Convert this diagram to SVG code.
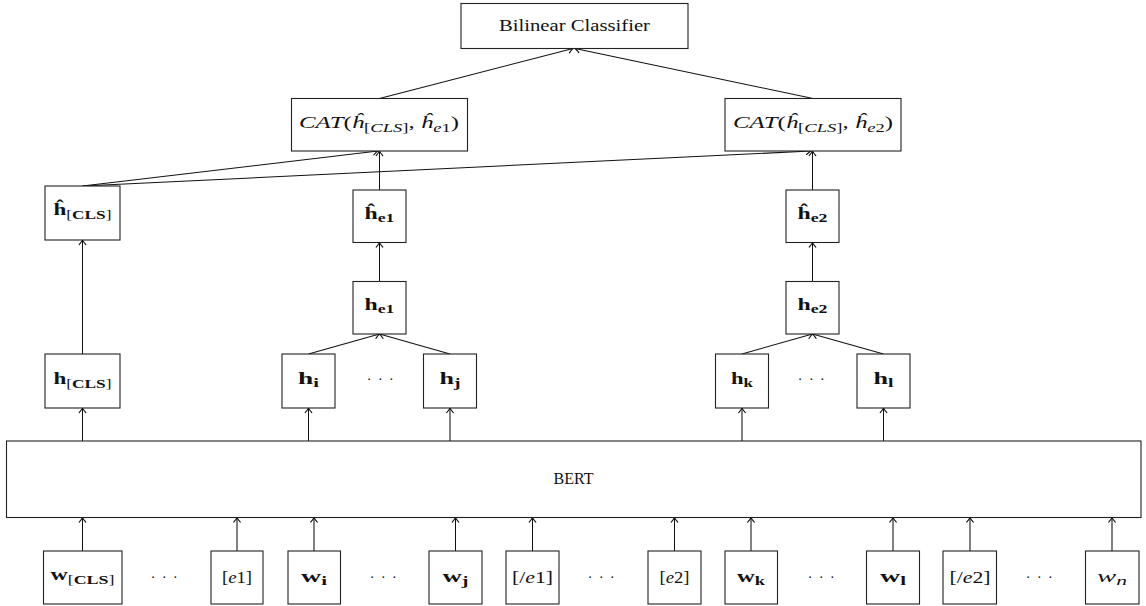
<svg xmlns="http://www.w3.org/2000/svg" width="1146" height="606" viewBox="0 0 1146 606">
  <defs>
    <marker id="tip" markerUnits="userSpaceOnUse" markerWidth="12" markerHeight="12" refX="0" refY="0" viewBox="-6 -6 12 12" orient="auto">
      <path d="M-4.6,-3.3 Q-1.6,-0.7 0,0 Q-1.6,0.7 -4.6,3.3" fill="none" stroke="#111" stroke-width="1.1" stroke-linecap="round"/>
    </marker>
    <style>
      .box { fill: #fff; stroke: #222; stroke-width: 1.1; }
      .edge { fill: none; stroke: #111; stroke-width: 1.05; marker-end: url(#tip); }
      text { font-family: "Liberation Serif", "DejaVu Serif", serif; fill: #111; text-anchor: middle; }
      .lbl { font-size: 16px; }
      .sub { font-size: 12px; }
      .b { font-weight: bold; }
      .i { font-style: italic; }
      .dots { font-size: 14px; letter-spacing: 1.5px; }
    </style>
  </defs>

  <!-- connectors -->
  <g id="connectors">
    <!-- CAT nodes into the classifier -->
    <line class="edge" x1="379.5" y1="98.5" x2="573" y2="48.5"/>
    <line class="edge" x1="813" y1="98.5" x2="575" y2="48.5"/>
    <!-- [CLS] representation shared by both concatenations -->
    <line class="edge" x1="82.5" y1="186" x2="378" y2="151"/>
    <line class="edge" x1="82.5" y1="186" x2="811" y2="151"/>
    <!-- entity heads -->
    <line class="edge" x1="379.5" y1="190" x2="379.5" y2="151"/>
    <line class="edge" x1="812.5" y1="190" x2="812.5" y2="151"/>
    <line class="edge" x1="379.5" y1="281.5" x2="379.5" y2="242.5"/>
    <line class="edge" x1="812.5" y1="281.5" x2="812.5" y2="242.5"/>
    <line class="edge" x1="82.5" y1="354" x2="82.5" y2="240"/>
    <!-- token pooling -->
    <line class="edge" x1="308.5" y1="354" x2="379.5" y2="334"/>
    <line class="edge" x1="450" y1="354" x2="379.5" y2="334"/>
    <line class="edge" x1="742" y1="354" x2="812.5" y2="334"/>
    <line class="edge" x1="883.5" y1="354" x2="812.5" y2="334"/>
    <!-- BERT outputs -->
    <line class="edge" x1="82.5" y1="441" x2="82.5" y2="408"/>
    <line class="edge" x1="308.5" y1="441" x2="308.5" y2="408"/>
    <line class="edge" x1="450" y1="441" x2="450" y2="408"/>
    <line class="edge" x1="742" y1="441" x2="742" y2="408"/>
    <line class="edge" x1="883.5" y1="441" x2="883.5" y2="408"/>
    <!-- BERT inputs -->
    <line class="edge" x1="82.5" y1="551" x2="82.5" y2="517.5"/>
    <line class="edge" x1="237" y1="551" x2="237" y2="517.5"/>
    <line class="edge" x1="314" y1="551" x2="314" y2="517.5"/>
    <line class="edge" x1="455.5" y1="551" x2="455.5" y2="517.5"/>
    <line class="edge" x1="532.5" y1="551" x2="532.5" y2="517.5"/>
    <line class="edge" x1="674.5" y1="551" x2="674.5" y2="517.5"/>
    <line class="edge" x1="751" y1="551" x2="751" y2="517.5"/>
    <line class="edge" x1="893" y1="551" x2="893" y2="517.5"/>
    <line class="edge" x1="970" y1="551" x2="970" y2="517.5"/>
    <line class="edge" x1="1112" y1="551" x2="1112" y2="517.5"/>
  </g>

  <g id="classifier">
    <rect class="box" x="461" y="3.5" width="227" height="45"/>
    <text class="lbl" x="574.5" y="31" textLength="151" lengthAdjust="spacingAndGlyphs">Bilinear Classifier</text>
  </g>

  <g id="cat-e1">
    <rect class="box" x="291.5" y="98.5" width="176" height="52.5"/>
    <text class="lbl" font-size="17" x="379" y="128" textLength="160" lengthAdjust="spacingAndGlyphs"><tspan class="i">CAT</tspan>(<tspan class="i">ĥ</tspan><tspan class="sub" dy="4">[<tspan class="i">CLS</tspan>]</tspan><tspan dy="-4">, </tspan><tspan class="i">ĥ</tspan><tspan class="sub" dy="4"><tspan class="i">e</tspan>1</tspan><tspan dy="-4">)</tspan></text>
  </g>

  <g id="cat-e2">
    <rect class="box" x="725" y="98.5" width="176" height="52.5"/>
    <text class="lbl" font-size="17" x="813" y="128" textLength="160" lengthAdjust="spacingAndGlyphs"><tspan class="i">CAT</tspan>(<tspan class="i">ĥ</tspan><tspan class="sub" dy="4">[<tspan class="i">CLS</tspan>]</tspan><tspan dy="-4">, </tspan><tspan class="i">ĥ</tspan><tspan class="sub" dy="4"><tspan class="i">e</tspan>2</tspan><tspan dy="-4">)</tspan></text>
  </g>

  <g id="hhat-cls">
    <rect class="box" x="45" y="186" width="75" height="54"/>
    <text class="lbl" x="82.5" y="215" textLength="58" lengthAdjust="spacingAndGlyphs"><tspan class="b">ĥ</tspan><tspan class="sub" dy="4">[<tspan class="b">CLS</tspan>]</tspan></text>
  </g>

  <g id="hhat-e1">
    <rect class="box" x="353" y="190" width="53" height="52.5"/>
    <text class="lbl b" x="379.5" y="219" textLength="30" lengthAdjust="spacingAndGlyphs">ĥ<tspan class="sub" dy="3">e1</tspan></text>
  </g>

  <g id="hhat-e2">
    <rect class="box" x="786" y="190" width="53" height="52.5"/>
    <text class="lbl b" x="812.5" y="219" textLength="30" lengthAdjust="spacingAndGlyphs">ĥ<tspan class="sub" dy="3">e2</tspan></text>
  </g>

  <g id="h-e1">
    <rect class="box" x="353" y="281.5" width="53" height="52.5"/>
    <text class="lbl b" x="379.5" y="310" textLength="30" lengthAdjust="spacingAndGlyphs">h<tspan class="sub" dy="3">e1</tspan></text>
  </g>

  <g id="h-e2">
    <rect class="box" x="786" y="281.5" width="53" height="52.5"/>
    <text class="lbl b" x="812.5" y="310" textLength="30" lengthAdjust="spacingAndGlyphs">h<tspan class="sub" dy="3">e2</tspan></text>
  </g>

  <g id="h-cls">
    <rect class="box" x="45" y="354" width="75" height="54"/>
    <text class="lbl" x="82.5" y="384" textLength="58" lengthAdjust="spacingAndGlyphs"><tspan class="b">h</tspan><tspan class="sub" dy="4">[<tspan class="b">CLS</tspan>]</tspan></text>
  </g>

  <g id="h-i">
    <rect class="box" x="282" y="354" width="53" height="54"/>
    <text class="lbl b" x="308.5" y="384" textLength="21" lengthAdjust="spacingAndGlyphs">h<tspan class="sub" dy="3">i</tspan></text>
  </g>

  <g id="dots-ij">
    <text class="dots" x="381" y="384">· · ·</text>
  </g>

  <g id="h-j">
    <rect class="box" x="423.5" y="354" width="53" height="54"/>
    <text class="lbl b" x="450" y="384" textLength="21" lengthAdjust="spacingAndGlyphs">h<tspan class="sub" dy="3">j</tspan></text>
  </g>

  <g id="h-k">
    <rect class="box" x="715.5" y="354" width="53" height="54"/>
    <text class="lbl b" x="742" y="384" textLength="22" lengthAdjust="spacingAndGlyphs">h<tspan class="sub" dy="3">k</tspan></text>
  </g>

  <g id="dots-kl">
    <text class="dots" x="812" y="384">· · ·</text>
  </g>

  <g id="h-l">
    <rect class="box" x="857" y="354" width="53" height="54"/>
    <text class="lbl b" x="883.5" y="384" textLength="20" lengthAdjust="spacingAndGlyphs">h<tspan class="sub" dy="3">l</tspan></text>
  </g>

  <g id="bert">
    <rect class="box" x="6.5" y="441" width="1134.5" height="76.5"/>
    <text class="lbl" x="573.5" y="484" font-size="13">BERT</text>
  </g>

  <!-- input tokens -->
  <g id="w-cls">
    <rect class="box" x="43.5" y="551" width="78.5" height="53"/>
    <text class="lbl" x="82.5" y="580" textLength="64" lengthAdjust="spacingAndGlyphs"><tspan class="b">w</tspan><tspan class="sub" dy="4">[<tspan class="b">CLS</tspan>]</tspan></text>
  </g>
  <g id="dots-1"><text class="dots" x="165" y="582">· · ·</text></g>
  <g id="tag-e1">
    <rect class="box" x="211" y="551" width="52" height="53"/>
    <text class="lbl" x="237" y="583" textLength="30" lengthAdjust="spacingAndGlyphs">[<tspan class="i">e</tspan>1]</text>
  </g>
  <g id="w-i">
    <rect class="box" x="288" y="551" width="52.5" height="53"/>
    <text class="lbl b" x="314" y="582" textLength="26" lengthAdjust="spacingAndGlyphs">w<tspan class="sub" dy="3">i</tspan></text>
  </g>
  <g id="dots-2"><text class="dots" x="384" y="582">· · ·</text></g>
  <g id="w-j">
    <rect class="box" x="429" y="551" width="53" height="53"/>
    <text class="lbl b" x="455.5" y="582" textLength="26" lengthAdjust="spacingAndGlyphs">w<tspan class="sub" dy="3">j</tspan></text>
  </g>
  <g id="tag-e1-end">
    <rect class="box" x="506" y="551" width="53" height="53"/>
    <text class="lbl" x="532.5" y="583" textLength="41" lengthAdjust="spacingAndGlyphs">[/<tspan class="i">e</tspan>1]</text>
  </g>
  <g id="dots-3"><text class="dots" x="602" y="582">· · ·</text></g>
  <g id="tag-e2">
    <rect class="box" x="648" y="551" width="53" height="53"/>
    <text class="lbl" x="674.5" y="583" textLength="30" lengthAdjust="spacingAndGlyphs">[<tspan class="i">e</tspan>2]</text>
  </g>
  <g id="w-k">
    <rect class="box" x="725" y="551" width="52.5" height="53"/>
    <text class="lbl b" x="751" y="582" textLength="28" lengthAdjust="spacingAndGlyphs">w<tspan class="sub" dy="3">k</tspan></text>
  </g>
  <g id="dots-4"><text class="dots" x="822" y="582">· · ·</text></g>
  <g id="w-l">
    <rect class="box" x="866.5" y="551" width="53" height="53"/>
    <text class="lbl b" x="893" y="582" textLength="26" lengthAdjust="spacingAndGlyphs">w<tspan class="sub" dy="3">l</tspan></text>
  </g>
  <g id="tag-e2-end">
    <rect class="box" x="943" y="551" width="53.5" height="53"/>
    <text class="lbl" x="970" y="583" textLength="41" lengthAdjust="spacingAndGlyphs">[/<tspan class="i">e</tspan>2]</text>
  </g>
  <g id="dots-5"><text class="dots" x="1040" y="582">· · ·</text></g>
  <g id="w-n">
    <rect class="box" x="1085.5" y="551" width="53.5" height="53"/>
    <text class="lbl i" x="1112" y="582" textLength="30" lengthAdjust="spacingAndGlyphs">w<tspan class="sub" dy="3">n</tspan></text>
  </g>
</svg>
